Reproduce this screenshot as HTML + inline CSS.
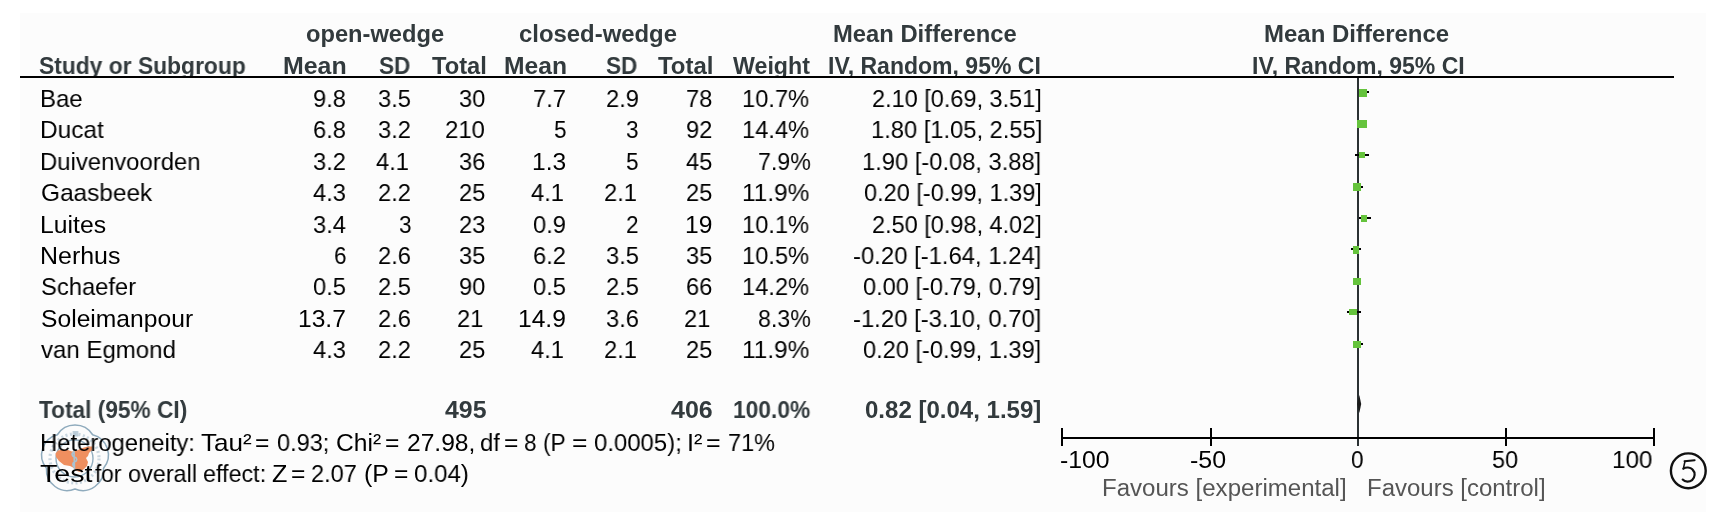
<!DOCTYPE html>
<html><head><meta charset="utf-8"><style>
html,body{margin:0;padding:0;background:#fff;}
body{width:1716px;height:512px;overflow:hidden;position:relative;font-family:"Liberation Sans",sans-serif;-webkit-font-smoothing:antialiased;}
.t{will-change:transform;}
.bg{position:absolute;left:20px;top:13px;width:1686px;height:499px;background:#fcfcfc;}
.t{position:absolute;white-space:pre;transform-origin:0 0;}
.b{font-weight:bold;font-size:23px;line-height:23px;color:#323a3d;}
.r{font-size:24.6px;line-height:24.6px;color:#000;}
.f{font-size:23.5px;line-height:23.5px;color:#555;}
.ln{position:absolute;background:#000;}
.mk{position:absolute;background:#65c33c;}
</style></head><body>
<div class="bg"></div>
<svg style="position:absolute;left:38px;top:423px" width="76" height="72" viewBox="0 0 76 72">
<path d="M54.63 11.73 A20.84 20.84 0 0 0 19.37 11.73 A20.84 20.84 0 0 0 8.47 45.27 A20.84 20.84 0 0 0 37 66 A20.84 20.84 0 0 0 65.53 45.27 A20.84 20.84 0 0 0 54.63 11.73 Z" fill="none" stroke="#8fabbd" stroke-width="1.5"/>
<circle cx="36.5" cy="35.5" r="18.5" fill="none" stroke="#93afc0" stroke-width="1.4"/>
<circle cx="36.5" cy="35.5" r="24.5" fill="none" stroke="#b9cbd7" stroke-width="3.2" stroke-dasharray="2 2.4" opacity="0.75"/>
<rect x="34.6" y="8" width="5.8" height="5.5" fill="#b3c7d4" opacity="0.85"/>
<path d="M17.5 30.5 L20 27.5 L25 26.5 L30 27 L34 28.5 L38 28 L42 26 L46 24.5 L50 23.5 L54.5 23.5 L54 27 L51 30 L50 33 L48 35 L50 39 L49 43 L46 46 L42 49 L39 48 L36 45 L32 43 L26 42 L21 38 L18 34 Z" fill="#ef8f5f"/>
<path d="M36.5 29 C33 30 33.5 33 36.5 34 C39.5 35 39.5 38 36.5 39 C34 40 34.5 43 36.5 44 M36 28 L36.5 46" fill="none" stroke="#a9c3d3" stroke-width="1.6"/>
</svg>
<span class="t b" id="e0" style="left:306.15px;top:23.33px;transform:scaleX(1.0295);">open-wedge</span>
<span class="t b" id="e1" style="left:518.96px;top:23.33px;transform:scaleX(1.0387);">closed-wedge</span>
<span class="t b" id="e2" style="left:832.93px;top:23.33px;transform:scaleX(1.0343);">Mean Difference</span>
<span class="t b" id="e3" style="left:1263.92px;top:23.33px;transform:scaleX(1.0423);">Mean Difference</span>
<span class="t b" id="e4" style="left:39.01px;top:54.53px;transform:scaleX(0.9927);">Study or Subgroup</span>
<span class="t b" id="e5" style="left:283.41px;top:54.53px;transform:scaleX(1.0836);">Mean</span>
<span class="t b" id="e6" style="left:379.02px;top:54.53px;transform:scaleX(0.9833);">SD</span>
<span class="t b" id="e7" style="left:431.79px;top:54.53px;transform:scaleX(1.0314);">Total</span>
<span class="t b" id="e8" style="left:503.82px;top:54.53px;transform:scaleX(1.0727);">Mean</span>
<span class="t b" id="e9" style="left:606.40px;top:54.53px;transform:scaleX(0.9833);">SD</span>
<span class="t b" id="e10" style="left:657.98px;top:54.53px;transform:scaleX(1.0431);">Total</span>
<span class="t b" id="e11" style="left:732.79px;top:54.53px;transform:scaleX(1.0092);">Weight</span>
<span class="t b" id="e12" style="left:828.38px;top:54.53px;transform:scaleX(1.0014);">IV, Random, 95% CI</span>
<span class="t b" id="e13" style="left:1251.60px;top:54.53px;transform:scaleX(1.0005);">IV, Random, 95% CI</span>
<span class="t r" id="e14" style="left:39.84px;top:87.08px;transform:scaleX(0.9756);">Bae</span>
<span class="t r" id="e15" style="left:313.25px;top:87.08px;transform:scaleX(0.9625);">9.8</span>
<span class="t r" id="e16" style="left:378.42px;top:87.08px;transform:scaleX(0.9625);">3.5</span>
<span class="t r" id="e17" style="left:459.06px;top:87.08px;transform:scaleX(0.9600);">30</span>
<span class="t r" id="e18" style="left:533.25px;top:87.08px;transform:scaleX(0.9625);">7.7</span>
<span class="t r" id="e19" style="left:605.81px;top:87.08px;transform:scaleX(0.9625);">2.9</span>
<span class="t r" id="e20" style="left:686.06px;top:87.08px;transform:scaleX(0.9600);">78</span>
<span class="t r" id="e21" style="left:742.47px;top:87.08px;transform:scaleX(0.9627);">10.7%</span>
<span class="t r" id="e22" style="left:871.84px;top:87.08px;transform:scaleX(0.9549);">2.10 [0.69, 3.51]</span>
<span class="t r" id="e23" style="left:39.81px;top:118.44px;transform:scaleX(0.9919);">Ducat</span>
<span class="t r" id="e24" style="left:313.25px;top:118.44px;transform:scaleX(0.9625);">6.8</span>
<span class="t r" id="e25" style="left:378.42px;top:118.44px;transform:scaleX(0.9625);">3.2</span>
<span class="t r" id="e26" style="left:445.04px;top:118.44px;transform:scaleX(0.9744);">210</span>
<span class="t r" id="e27" style="left:554.32px;top:118.44px;transform:scaleX(0.9200);">5</span>
<span class="t r" id="e28" style="left:625.93px;top:118.44px;transform:scaleX(0.9200);">3</span>
<span class="t r" id="e29" style="left:686.06px;top:118.44px;transform:scaleX(0.9600);">92</span>
<span class="t r" id="e30" style="left:742.47px;top:118.44px;transform:scaleX(0.9627);">14.4%</span>
<span class="t r" id="e31" style="left:870.66px;top:118.44px;transform:scaleX(0.9638);">1.80 [1.05, 2.55]</span>
<span class="t r" id="e32" style="left:39.85px;top:149.80px;transform:scaleX(0.9704);">Duivenvoorden</span>
<span class="t r" id="e33" style="left:313.25px;top:149.80px;transform:scaleX(0.9625);">3.2</span>
<span class="t r" id="e34" style="left:376.42px;top:149.80px;transform:scaleX(0.9625);">4.1</span>
<span class="t r" id="e35" style="left:459.06px;top:149.80px;transform:scaleX(0.9600);">36</span>
<span class="t r" id="e36" style="left:532.21px;top:149.80px;transform:scaleX(0.9935);">1.3</span>
<span class="t r" id="e37" style="left:625.93px;top:149.80px;transform:scaleX(0.9200);">5</span>
<span class="t r" id="e38" style="left:686.06px;top:149.80px;transform:scaleX(0.9600);">45</span>
<span class="t r" id="e39" style="left:757.83px;top:149.80px;transform:scaleX(0.9407);">7.9%</span>
<span class="t r" id="e40" style="left:862.28px;top:149.80px;transform:scaleX(0.9637);">1.90 [-0.08, 3.88]</span>
<span class="t r" id="e41" style="left:40.80px;top:181.16px;transform:scaleX(0.9919);">Gaasbeek</span>
<span class="t r" id="e42" style="left:313.25px;top:181.16px;transform:scaleX(0.9625);">4.3</span>
<span class="t r" id="e43" style="left:378.42px;top:181.16px;transform:scaleX(0.9625);">2.2</span>
<span class="t r" id="e44" style="left:459.06px;top:181.16px;transform:scaleX(0.9600);">25</span>
<span class="t r" id="e45" style="left:531.25px;top:181.16px;transform:scaleX(0.9625);">4.1</span>
<span class="t r" id="e46" style="left:603.81px;top:181.16px;transform:scaleX(0.9625);">2.1</span>
<span class="t r" id="e47" style="left:686.06px;top:181.16px;transform:scaleX(0.9600);">25</span>
<span class="t r" id="e48" style="left:742.41px;top:181.16px;transform:scaleX(0.9923);">11.9%</span>
<span class="t r" id="e49" style="left:864.04px;top:181.16px;transform:scaleX(0.9563);">0.20 [-0.99, 1.39]</span>
<span class="t r" id="e50" style="left:39.78px;top:212.53px;transform:scaleX(1.0063);">Luites</span>
<span class="t r" id="e51" style="left:313.25px;top:212.53px;transform:scaleX(0.9625);">3.4</span>
<span class="t r" id="e52" style="left:398.56px;top:212.53px;transform:scaleX(0.9200);">3</span>
<span class="t r" id="e53" style="left:459.06px;top:212.53px;transform:scaleX(0.9600);">23</span>
<span class="t r" id="e54" style="left:533.25px;top:212.53px;transform:scaleX(0.9625);">0.9</span>
<span class="t r" id="e55" style="left:626.39px;top:212.53px;transform:scaleX(0.9200);">2</span>
<span class="t r" id="e56" style="left:685.00px;top:212.53px;">19</span>
<span class="t r" id="e57" style="left:742.47px;top:212.53px;transform:scaleX(0.9627);">10.1%</span>
<span class="t r" id="e58" style="left:871.84px;top:212.53px;transform:scaleX(0.9549);">2.50 [0.98, 4.02]</span>
<span class="t r" id="e59" style="left:39.76px;top:243.89px;transform:scaleX(1.0145);">Nerhus</span>
<span class="t r" id="e60" style="left:334.32px;top:243.89px;transform:scaleX(0.9200);">6</span>
<span class="t r" id="e61" style="left:378.42px;top:243.89px;transform:scaleX(0.9625);">2.6</span>
<span class="t r" id="e62" style="left:459.06px;top:243.89px;transform:scaleX(0.9600);">35</span>
<span class="t r" id="e63" style="left:533.25px;top:243.89px;transform:scaleX(0.9625);">6.2</span>
<span class="t r" id="e64" style="left:605.81px;top:243.89px;transform:scaleX(0.9625);">3.5</span>
<span class="t r" id="e65" style="left:686.06px;top:243.89px;transform:scaleX(0.9600);">35</span>
<span class="t r" id="e66" style="left:742.47px;top:243.89px;transform:scaleX(0.9627);">10.5%</span>
<span class="t r" id="e67" style="left:853.43px;top:243.89px;transform:scaleX(0.9702);">-0.20 [-1.64, 1.24]</span>
<span class="t r" id="e68" style="left:40.83px;top:275.25px;transform:scaleX(0.9660);">Schaefer</span>
<span class="t r" id="e69" style="left:313.25px;top:275.25px;transform:scaleX(0.9625);">0.5</span>
<span class="t r" id="e70" style="left:378.42px;top:275.25px;transform:scaleX(0.9625);">2.5</span>
<span class="t r" id="e71" style="left:459.06px;top:275.25px;transform:scaleX(0.9600);">90</span>
<span class="t r" id="e72" style="left:533.25px;top:275.25px;transform:scaleX(0.9625);">0.5</span>
<span class="t r" id="e73" style="left:605.81px;top:275.25px;transform:scaleX(0.9625);">2.5</span>
<span class="t r" id="e74" style="left:686.06px;top:275.25px;transform:scaleX(0.9600);">66</span>
<span class="t r" id="e75" style="left:742.47px;top:275.25px;transform:scaleX(0.9627);">14.2%</span>
<span class="t r" id="e76" style="left:863.25px;top:275.25px;transform:scaleX(0.9585);">0.00 [-0.79, 0.79]</span>
<span class="t r" id="e77" style="left:40.79px;top:306.61px;transform:scaleX(1.0023);">Soleimanpour</span>
<span class="t r" id="e78" style="left:298.20px;top:306.61px;transform:scaleX(0.9956);">13.7</span>
<span class="t r" id="e79" style="left:378.42px;top:306.61px;transform:scaleX(0.9625);">2.6</span>
<span class="t r" id="e80" style="left:457.06px;top:306.61px;transform:scaleX(0.9600);">21</span>
<span class="t r" id="e81" style="left:518.20px;top:306.61px;transform:scaleX(0.9956);">14.9</span>
<span class="t r" id="e82" style="left:605.81px;top:306.61px;transform:scaleX(0.9625);">3.6</span>
<span class="t r" id="e83" style="left:684.06px;top:306.61px;transform:scaleX(0.9600);">21</span>
<span class="t r" id="e84" style="left:757.83px;top:306.61px;transform:scaleX(0.9407);">8.3%</span>
<span class="t r" id="e85" style="left:853.43px;top:306.61px;transform:scaleX(0.9702);">-1.20 [-3.10, 0.70]</span>
<span class="t r" id="e86" style="left:40.79px;top:337.98px;transform:scaleX(0.9766);">van Egmond</span>
<span class="t r" id="e87" style="left:313.25px;top:337.98px;transform:scaleX(0.9625);">4.3</span>
<span class="t r" id="e88" style="left:378.42px;top:337.98px;transform:scaleX(0.9625);">2.2</span>
<span class="t r" id="e89" style="left:459.06px;top:337.98px;transform:scaleX(0.9600);">25</span>
<span class="t r" id="e90" style="left:531.25px;top:337.98px;transform:scaleX(0.9625);">4.1</span>
<span class="t r" id="e91" style="left:603.81px;top:337.98px;transform:scaleX(0.9625);">2.1</span>
<span class="t r" id="e92" style="left:686.06px;top:337.98px;transform:scaleX(0.9600);">25</span>
<span class="t r" id="e93" style="left:742.41px;top:337.98px;transform:scaleX(0.9923);">11.9%</span>
<span class="t r" id="e94" style="left:863.25px;top:337.98px;transform:scaleX(0.9585);">0.20 [-0.99, 1.39]</span>
<span class="t b" id="e95" style="left:39.39px;top:399.43px;transform:scaleX(0.9859);">Total (95% CI)</span>
<span class="t b" id="e96" style="left:444.78px;top:399.43px;transform:scaleX(1.0811);">495</span>
<span class="t b" id="e97" style="left:671.36px;top:399.43px;transform:scaleX(1.0865);">406</span>
<span class="t b" id="e98" style="left:732.81px;top:399.43px;transform:scaleX(0.9907);">100.0%</span>
<span class="t b" id="e99" style="left:865.13px;top:399.43px;transform:scaleX(1.0446);">0.82 [0.04, 1.59]</span>
<span class="t r" id="e100" style="left:1060.19px;top:447.58px;transform:scaleX(1.0085);">-100</span>
<span class="t r" id="e101" style="left:1189.98px;top:447.58px;transform:scaleX(1.0152);">-50</span>
<span class="t r" id="e102" style="left:1351.31px;top:447.58px;transform:scaleX(0.9200);">0</span>
<span class="t r" id="e103" style="left:1491.84px;top:447.58px;transform:scaleX(0.9520);">50</span>
<span class="t r" id="e104" style="left:1611.62px;top:447.58px;transform:scaleX(0.9868);">100</span>
<span class="t f" id="e105" style="left:1102.35px;top:476.91px;transform:scaleX(1.0234);">Favours [experimental]</span>
<span class="t f" id="e106" style="left:1366.55px;top:476.91px;transform:scaleX(1.0205);">Favours [control]</span>
<span class="t r" id="e107" style="left:39.66px;top:431.18px;transform:scaleX(0.9692);">Heterogeneity:</span>
<span class="t r" id="e108" style="left:200.75px;top:431.18px;transform:scaleX(1.0609);">Tau²</span>
<span class="t r" id="e109" style="left:255.00px;top:431.18px;">=</span>
<span class="t r" id="e110" style="left:277.06px;top:431.18px;transform:scaleX(0.9569);">0.93;</span>
<span class="t r" id="e111" style="left:336.39px;top:431.18px;transform:scaleX(0.9909);">Chi²</span>
<span class="t r" id="e112" style="left:385.00px;top:431.18px;">=</span>
<span class="t r" id="e113" style="left:406.60px;top:431.18px;transform:scaleX(0.9938);">27.98,</span>
<span class="t r" id="e114" style="left:479.63px;top:431.18px;transform:scaleX(0.9700);">df</span>
<span class="t r" id="e115" style="left:503.79px;top:431.18px;">=</span>
<span class="t r" id="e116" style="left:524.31px;top:431.18px;transform:scaleX(0.9200);">8</span>
<span class="t r" id="e117" style="left:543.01px;top:431.18px;transform:scaleX(0.9200);">(P</span>
<span class="t r" id="e118" style="left:571.92px;top:431.18px;transform:scaleX(1.0750);">=</span>
<span class="t r" id="e119" style="left:594.04px;top:431.18px;transform:scaleX(0.9724);">0.0005);</span>
<span class="t r" id="e120" style="left:686.95px;top:431.18px;transform:scaleX(1.0250);">I²</span>
<span class="t r" id="e121" style="left:705.98px;top:431.18px;transform:scaleX(1.0167);">=</span>
<span class="t r" id="e122" style="left:727.65px;top:431.18px;transform:scaleX(0.9553);">71%</span>
<span class="t r" id="e123" style="left:40.04px;top:462.18px;transform:scaleX(1.1659);">Test</span>
<span class="t r" id="e124" style="left:94.57px;top:462.18px;transform:scaleX(0.9179);">for</span>
<span class="t r" id="e125" style="left:127.63px;top:462.18px;transform:scaleX(0.9529);">overall</span>
<span class="t r" id="e126" style="left:203.45px;top:462.18px;transform:scaleX(0.9492);">effect:</span>
<span class="t r" id="e127" style="left:271.78px;top:462.18px;transform:scaleX(1.0231);">Z</span>
<span class="t r" id="e128" style="left:291.02px;top:462.18px;transform:scaleX(0.9833);">=</span>
<span class="t r" id="e129" style="left:311.07px;top:462.18px;transform:scaleX(0.9565);">2.07</span>
<span class="t r" id="e130" style="left:363.98px;top:462.18px;transform:scaleX(1.0095);">(P</span>
<span class="t r" id="e131" style="left:393.61px;top:462.18px;transform:scaleX(0.9833);">=</span>
<span class="t r" id="e132" style="left:413.62px;top:462.18px;transform:scaleX(0.9792);">0.04)</span>
<div class="ln" style="left:20px;top:78px;width:1654px;height:3px;background:#fcfcfc;"></div>
<div class="ln" style="left:20px;top:76px;width:1654px;height:2px;"></div>
<div class="ln" style="left:1357px;top:78px;width:2px;height:368px;background:#2b3133;"></div>
<div class="ln" style="left:1061px;top:436.5px;width:593px;height:2.0px;"></div>
<div class="ln" style="left:1061px;top:428px;width:2px;height:18px;"></div>
<div class="ln" style="left:1210px;top:428px;width:2px;height:18px;"></div>
<div class="ln" style="left:1505px;top:428px;width:2px;height:18px;"></div>
<div class="ln" style="left:1652.5px;top:428px;width:2.0px;height:18px;"></div>
<div class="ln" style="left:1359px;top:91px;width:10px;height:2px;"></div>
<div class="ln" style="left:1360px;top:123px;width:5px;height:2px;"></div>
<div class="ln" style="left:1355px;top:154px;width:14px;height:2px;"></div>
<div class="ln" style="left:1355px;top:186px;width:8px;height:2px;"></div>
<div class="ln" style="left:1359px;top:216.5px;width:12px;height:2.0px;"></div>
<div class="ln" style="left:1351px;top:248px;width:10px;height:2px;"></div>
<div class="ln" style="left:1355.5px;top:280.3px;width:5.0px;height:2.0px;"></div>
<div class="ln" style="left:1347px;top:311px;width:14px;height:2px;"></div>
<div class="ln" style="left:1355px;top:343px;width:8px;height:2px;"></div>
<div class="mk" style="left:1359px;top:89px;width:8px;height:8px;"></div>
<div class="mk" style="left:1357px;top:120px;width:10px;height:8px;"></div>
<div class="mk" style="left:1359px;top:152px;width:6px;height:6px;"></div>
<div class="mk" style="left:1353px;top:183px;width:8px;height:8px;"></div>
<div class="mk" style="left:1361px;top:214.5px;width:6px;height:7.5px;"></div>
<div class="mk" style="left:1353px;top:246px;width:6px;height:8px;"></div>
<div class="mk" style="left:1353px;top:277.5px;width:8px;height:7.5px;"></div>
<div class="mk" style="left:1349px;top:309px;width:8px;height:6px;"></div>
<div class="mk" style="left:1353px;top:340.5px;width:8px;height:7.5px;"></div>
<svg style="position:absolute;left:0;top:0" width="1716" height="512" viewBox="0 0 1716 512">
<polygon points="1357.2,404 1359.3,395 1361.2,404 1359.3,413" fill="#1a1a1a"/>
<circle cx="1688.3" cy="470.8" r="17.4" fill="none" stroke="#111" stroke-width="2.4"/>
<g fill="none" stroke="#111" stroke-linecap="round">
<path d="M1684.6 461.2 L1694.6 460.2" stroke-width="2.1"/>
<path d="M1685 461.2 L1683.4 468.6" stroke-width="1.6"/>
<path d="M1683.4 468.6 C1686 467 1690.2 467 1692.6 469.6 C1695.6 472.6 1695.1 477.6 1692.1 480.1 C1689.6 482.1 1685.1 482.3 1682.7 479.6" stroke-width="2.2"/>
</g>
</svg>
</body></html>
